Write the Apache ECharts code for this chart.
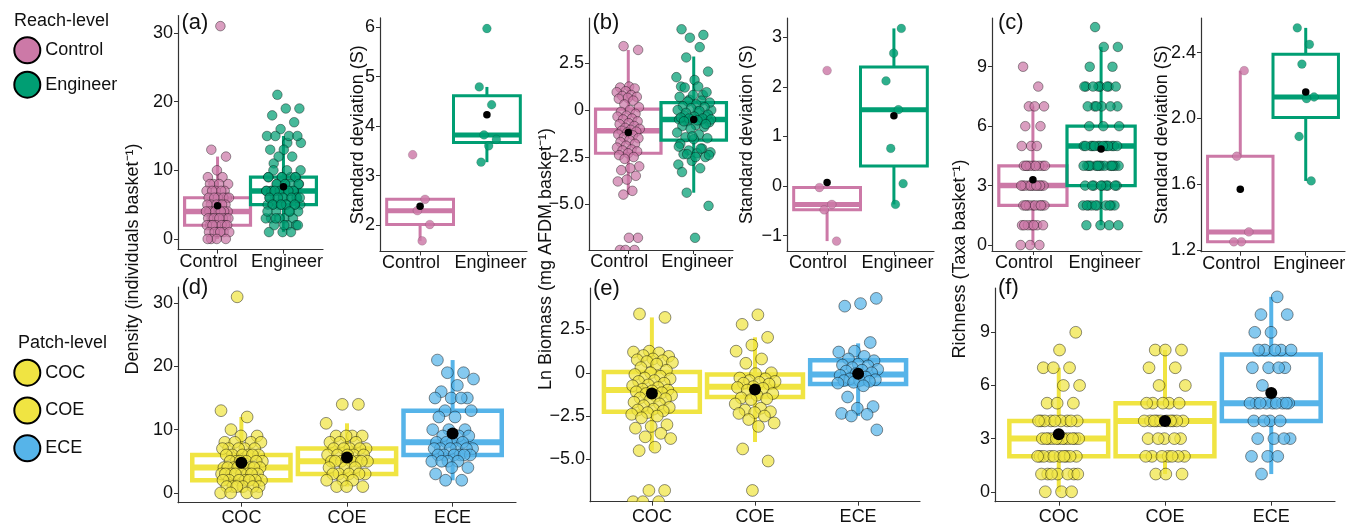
<!DOCTYPE html>
<html><head><meta charset="utf-8">
<script src="https://cdn.jsdelivr.net/npm/echarts@6/dist/echarts.min.js"></script>
<style>html,body{margin:0;padding:0;background:#fff}#chart{width:1362px;height:527px}</style>
</head><body><div id="chart"></div>
<script>
// ---------------- DATA ----------------
const reachCategories = ['Control', 'Engineer'];
const patchCategories = ['COC', 'COE', 'ECE'];

const densityTicks = [0, 10, 20, 30];
const biomassTicks = [-5, -2.5, 0, 2.5];
const richnessTicks = [0, 3, 6, 9];
const sdDensityTicks = [2, 3, 4, 5, 6];
const sdBiomassTicks = [-1, 0, 1, 2, 3];
const sdRichnessTicks = [1.2, 1.6, 2.0, 2.4];

// Density (individuals per basket) per patch type
const densityCOC = [31, 13, 12, 10, 9, 9, 8, 8, 8, 8, 7, 7, 7, 7, 7, 6, 6, 6, 6, 6, 6, 5, 5, 5, 5, 5, 5, 4, 4, 4, 4, 4, 4, 4, 4, 3, 3, 3, 3, 3, 3, 3, 3, 2, 2, 2, 2, 2, 2, 2, 1, 1, 1, 1, 1, 1, 0, 0, 0, 0];
const densityCOE = [14, 14, 11, 9, 9, 9, 9, 8, 8, 8, 7, 7, 7, 7, 7, 6, 6, 6, 6, 6, 5, 5, 5, 5, 5, 5, 5, 4, 4, 4, 3, 3, 3, 3, 3, 2, 2, 2, 1, 1, 1];
const densityECE = [21, 19, 19, 18, 17, 16, 15, 15, 15, 15, 13, 13, 12, 12, 10, 10, 10, 9, 9, 9, 8, 8, 8, 8, 7, 7, 7, 7, 7, 7, 6, 6, 6, 6, 6, 6, 5, 5, 5, 5, 4, 4, 3, 2, 2];

// Ln biomass (mg AFDM per basket)
const biomassCOC = [3.4, 3.2, 1.25, 1.2, 1.15, 1.0, 0.95, 0.8, 0.75, 0.7, 0.65, 0.6, 0.5, 0.3, 0.15, 0.0, -0.1, -0.2, -0.3, -0.35, -0.45, -0.5, -0.6, -0.7, -0.75, -0.85, -0.95, -1.0, -1.05, -1.1, -1.15, -1.2, -1.3, -1.35, -1.45, -1.5, -1.6, -1.7, -1.8, -1.9, -2.0, -2.1, -2.15, -2.2, -2.3, -2.4, -2.5, -2.6, -3.0, -3.1, -3.2, -3.5, -3.7, -3.8, -4.3, -4.5, -6.8, -6.8, -7.45, -7.45, -7.45];
const biomassCOE = [3.35, 2.8, 2.05, 1.6, 1.25, 0.8, 0.55, 0.0, -0.05, -0.3, -0.35, -0.45, -0.5, -0.55, -0.6, -0.65, -0.8, -0.85, -0.9, -1.0, -1.2, -1.3, -1.45, -1.5, -1.55, -1.8, -2.05, -2.15, -2.25, -2.3, -2.35, -2.5, -2.7, -2.9, -3.1, -4.4, -5.1, -6.8];
const biomassECE = [4.3, 4.0, 3.85, 1.75, 1.25, 1.2, 0.95, 0.8, 0.7, 0.5, 0.45, 0.4, 0.3, 0.2, 0.15, 0.1, 0.0, -0.05, -0.15, -0.25, -0.35, -0.4, -0.45, -0.45, -0.5, -0.55, -0.6, -0.75, -1.4, -1.95, -2.05, -2.35, -2.4, -2.5, -3.3];

// Richness (taxa per basket)
const richnessCOC = [9, 8, 7, 7, 7, 6, 6, 5, 5, 5, 4, 4, 4, 4, 4, 4, 4, 4, 4, 3, 3, 3, 3, 3, 3, 3, 3, 3, 3, 3, 3, 2, 2, 2, 2, 2, 2, 2, 2, 2, 2, 1, 1, 1, 1, 1, 1, 1, 0, 0, 0];
const richnessCOE = [8, 8, 8, 7, 7, 6, 6, 5, 5, 5, 5, 5, 4, 4, 4, 4, 4, 4, 4, 4, 4, 4, 3, 3, 3, 3, 3, 2, 2, 2, 2, 2, 2, 2, 1, 1, 1];
const richnessECE = [11, 10, 10, 9, 9, 8, 8, 8, 8, 8, 7, 7, 7, 7, 6, 5, 5, 5, 5, 5, 5, 5, 5, 5, 4, 4, 4, 4, 3, 3, 3, 3, 2, 2, 2, 1];

// Standard deviations (reach level)
const sdDensityControl = [3.42, 2.52, 2.29, 2.01, 1.68];
const sdDensityEngineer = [5.97, 4.79, 4.43, 3.82, 3.73, 3.6, 3.27];
const sdBiomassControl = [2.33, -0.03, -0.37, -0.48, -1.11];
const sdBiomassEngineer = [3.18, 2.68, 2.12, 1.54, 0.76, 0.05, -0.37];
const sdRichnessControl = [2.29, 1.77, 1.31, 1.25, 1.25];
const sdRichnessEngineer = [2.55, 2.45, 2.33, 2.13, 2.12, 1.89, 1.62];

// Box statistics [lower whisker, Q1, median, Q3, upper whisker] and means
const densityReachBox = [[0, 2, 4, 6, 12], [1, 5, 7, 9, 15]];
const densityReachMean = [4.85, 7.6];
const densityPatchBox = [[0, 2, 4, 6, 12], [1, 3, 5, 7, 11], [2, 6, 8, 13, 21]];
const densityPatchMean = [4.75, 5.6, 9.4];
const biomassReachBox = [[-4.5, -2.3, -1.1, 0.05, 3.2], [-4.4, -1.6, -0.5, 0.4, 2.85]];
const biomassReachMean = [-1.2, -0.5];
const biomassPatchBox = [[-4.5, -2.25, -1.0, 0.05, 3.2], [-4.0, -1.4, -0.8, -0.1, 2.05], [-2.5, -0.65, -0.1, 0.72, 1.7]];
const biomassPatchMean = [-1.2, -0.97, -0.06];
const richnessReachBox = [[0, 2, 3, 4, 7], [1, 3, 5, 6, 10]];
const richnessReachMean = [3.3, 4.85];
const richnessPatchBox = [[0, 2, 3, 4, 7], [1, 2, 4, 5, 8], [1, 4, 5, 7.75, 11]];
const richnessPatchMean = [3.25, 4.0, 5.57];
const sdDensityBox = [[1.68, 2.01, 2.29, 2.52, 2.52], [3.27, 3.665, 3.82, 4.61, 4.79]];
const sdDensityMean = [2.38, 4.23];
const sdBiomassBox = [[-1.11, -0.48, -0.37, -0.03, -0.03], [-0.37, 0.405, 1.54, 2.40, 3.18]];
const sdBiomassMean = [0.07, 1.42];
const sdRichnessBox = [[1.25, 1.25, 1.31, 1.77, 2.29], [1.62, 2.005, 2.13, 2.39, 2.55]];
const sdRichnessMean = [1.57, 2.16];

// ---------------- STYLE / LAYOUT ----------------
const FONT = '"Liberation Sans", Arial, Helvetica, sans-serif';
const PINK = '#cc79a7', GREEN = '#009e73', YELLOW = '#f0e442', BLUE = '#56b4e9';
const AXIS = '#333333', TEXT = '#111111';

const TOP = {r: 4.8, jw: [0.18, 0.27], op: 0.72, stroke: 'rgba(0,0,0,0.55)', lw: 0.7, bw: 1.0, bl: 3.2, ml: 5.5, wl: 3, mean: 7.5, margin: 3, shift: true};
const INSET = {r: 4.4, jw: [0.15, 0.15], op: 0.82, stroke: 'rgba(0,0,0,0.22)', lw: 0.6, bw: 1.0, bl: 3, ml: 5, wl: 3, mean: 7.5, margin: 3, shift: true};
const BOTTOM = {r: 5.9, jw: [0.2, 0.2, 0.2], op: 0.72, stroke: 'rgba(0,0,0,0.55)', lw: 0.8, bw: 0.93, bl: 4.5, ml: 6, wl: 4, mean: 12, margin: 6, shift: false};
// horizontal nudges (px) of the reach-level category labels, as in the original figure
const LABEL_PAD = [[0, 18, 0, 0], [0, 0, 0, 7]];

function fmtMinus(dec) {
  return v => {
    const s = dec > 0 && v !== 0 ? Math.abs(v).toFixed(dec) : String(Math.abs(v));
    return (v < 0 ? '\u2212' : '') + s;
  };
}

const panels = [
  {rect: [178, 15.5, 323, 249.6], y: [-1.55, 32.55], ticks: densityTicks, fmt: fmtMinus(0), cats: reachCategories, st: TOP, seed: 0.62,
   groups: [{name: 'Control', v: densityCOC, c: PINK}, {name: 'Engineer', v: densityCOE.concat(densityECE), c: GREEN}],
   box: densityReachBox, mean: densityReachMean},
  {rect: [380, 17.9, 527, 251.5], y: [1.4655, 6.1845], ticks: sdDensityTicks, fmt: fmtMinus(0), cats: reachCategories, st: INSET, seed: 0.13,
   groups: [{name: 'Control', v: sdDensityControl, c: PINK}, {name: 'Engineer', v: sdDensityEngineer, c: GREEN}],
   box: sdDensityBox, mean: sdDensityMean},
  {rect: [589, 18, 733, 250], y: [-7.45, 4.9], ticks: biomassTicks, fmt: fmtMinus(1), cats: reachCategories, st: TOP, seed: 0.3,
   groups: [{name: 'Control', v: biomassCOC, c: PINK}, {name: 'Engineer', v: biomassCOE.concat(biomassECE), c: GREEN}],
   box: biomassReachBox, mean: biomassReachMean},
  {rect: [787, 18, 934, 251], y: [-1.31, 3.39], ticks: sdBiomassTicks, fmt: fmtMinus(0), cats: reachCategories, st: INSET, seed: 0.5,
   groups: [{name: 'Control', v: sdBiomassControl, c: PINK}, {name: 'Engineer', v: sdBiomassEngineer, c: GREEN}],
   box: sdBiomassBox, mean: sdBiomassMean},
  {rect: [992, 18, 1142, 251], y: [-0.3, 11.46], ticks: richnessTicks, fmt: fmtMinus(0), cats: reachCategories, st: TOP, seed: 0.1,
   groups: [{name: 'Control', v: richnessCOC, c: PINK}, {name: 'Engineer', v: richnessCOE.concat(richnessECE), c: GREEN}],
   box: richnessReachBox, mean: richnessReachMean},
  {rect: [1201, 18, 1345, 251.7], y: [1.19, 2.61], ticks: sdRichnessTicks, fmt: v => v.toFixed(1), cats: reachCategories, st: INSET, seed: 0.7,
   groups: [{name: 'Control', v: sdRichnessControl, c: PINK}, {name: 'Engineer', v: sdRichnessEngineer, c: GREEN}],
   box: sdRichnessBox, mean: sdRichnessMean},
  {rect: [178, 287, 516, 502.7], y: [-1.55, 32.55], ticks: densityTicks, fmt: fmtMinus(0), cats: patchCategories, st: BOTTOM, seed: 0.4,
   groups: [{name: 'COC', v: densityCOC, c: YELLOW}, {name: 'COE', v: densityCOE, c: YELLOW}, {name: 'ECE', v: densityECE, c: BLUE}],
   box: densityPatchBox, mean: densityPatchMean},
  {rect: [590, 288, 920, 501.7], y: [-7.45, 4.9], ticks: biomassTicks, fmt: fmtMinus(1), cats: patchCategories, st: BOTTOM, seed: 0.2,
   groups: [{name: 'COC', v: biomassCOC, c: YELLOW}, {name: 'COE', v: biomassCOE, c: YELLOW}, {name: 'ECE', v: biomassECE, c: BLUE}],
   box: biomassPatchBox, mean: biomassPatchMean},
  {rect: [995, 288, 1335, 501.7], y: [-0.56, 11.5], ticks: richnessTicks, fmt: fmtMinus(0), cats: patchCategories, st: BOTTOM, seed: 0.9,
   groups: [{name: 'COC', v: richnessCOC, c: YELLOW}, {name: 'COE', v: richnessCOE, c: YELLOW}, {name: 'ECE', v: richnessECE, c: BLUE}],
   box: richnessPatchBox, mean: richnessPatchMean}
];

// deterministic, evenly spread horizontal jitter (golden-ratio sequence)
function jitter(i, seed, w) {
  const u = (i * 0.6180339887 + seed) % 1;
  return (u - 0.5) * 2 * w;
}
function hexA(hex, a) {
  const n = parseInt(hex.slice(1), 16);
  return 'rgba(' + (n >> 16 & 255) + ',' + (n >> 8 & 255) + ',' + (n & 255) + ',' + a + ')';
}

const labelFont = {fontSize: 18, color: TEXT, fontFamily: FONT};
const grids = [], xAxes = [], yAxes = [], series = [];
panels.forEach((p, k) => {
  const [l, t, r, b] = p.rect;
  const st = p.st;
  grids.push({left: l, top: t, width: r - l, height: b - t, outerBoundsMode: 'none'});
  const n = p.cats.length;
  const catPos = p.cats.map((c, i) => i + 1);
  const axisCommon = {
    gridIndex: k, type: 'value', splitLine: {show: false},
    axisLine: {show: true, onZero: false, lineStyle: {color: AXIS, width: 1.2}},
  };
  const rich = {};
  p.cats.forEach((c, i) => { rich['c' + i] = Object.assign({padding: st.shift ? LABEL_PAD[i] : [0, 0, 0, 0]}, labelFont); });
  xAxes.push(Object.assign({}, axisCommon, {
    min: 0.4, max: n + 0.6,
    axisTick: {show: true, customValues: catPos, length: 4, lineStyle: {color: AXIS, width: 1}},
    axisLabel: Object.assign({customValues: catPos, margin: st.margin, rich: rich,
      formatter: v => { const i = Math.round(v) - 1; return '{c' + i + '|' + p.cats[i] + '}'; }}, labelFont)
  }));
  yAxes.push(Object.assign({}, axisCommon, {
    min: p.y[0], max: p.y[1],
    axisTick: {show: true, customValues: p.ticks, length: 4, lineStyle: {color: AXIS, width: 1}},
    axisLabel: Object.assign({customValues: p.ticks, formatter: p.fmt, margin: 5}, labelFont)
  }));
  // boxes
  series.push({
    type: 'custom', xAxisIndex: k, yAxisIndex: k, z: 2, silent: true,
    data: p.box.map((bx, i) => [i + 1].concat(bx)),
    renderItem: (params, api) => {
      const x = api.value(0);
      const c = p.groups[params.dataIndex].c;
      const L = api.coord([x - st.bw / 2, 0])[0], R = api.coord([x + st.bw / 2, 0])[0];
      const cx = api.coord([x, 0])[0];
      const yy = d => api.coord([x, api.value(d)])[1];
      const ymin = yy(1), yq1 = yy(2), ymed = yy(3), yq3 = yy(4), ymax = yy(5);
      return {type: 'group', children: [
        {type: 'line', shape: {x1: cx, y1: yq3, x2: cx, y2: ymax}, style: {stroke: c, lineWidth: st.wl}},
        {type: 'line', shape: {x1: cx, y1: ymin, x2: cx, y2: yq1}, style: {stroke: c, lineWidth: st.wl}},
        {type: 'rect', shape: {x: L, y: yq3, width: R - L, height: yq1 - yq3}, style: {fill: 'rgba(255,255,255,0)', stroke: c, lineWidth: st.bl}},
        {type: 'line', shape: {x1: L, y1: ymed, x2: R, y2: ymed}, style: {stroke: c, lineWidth: st.ml}}
      ]};
    }
  });
  // jittered points
  p.groups.forEach((g, gi) => {
    const seed = p.seed + 0.37 * gi;
    series.push({
      type: 'custom', name: g.name, xAxisIndex: k, yAxisIndex: k, z: 3, silent: true, clip: true,
      itemStyle: {color: g.c},
      data: g.v.map((v, i) => [gi + 1 + jitter(i, seed, st.jw[gi]), v]),
      renderItem: (params, api) => {
        const pt = api.coord([api.value(0), api.value(1)]);
        return {type: 'circle', shape: {cx: pt[0], cy: pt[1], r: st.r},
                style: {fill: hexA(g.c, st.op), stroke: st.stroke, lineWidth: st.lw}};
      }
    });
  });
  // means
  series.push({
    type: 'scatter', xAxisIndex: k, yAxisIndex: k, z: 5, silent: true,
    symbol: 'circle', symbolSize: st.mean, itemStyle: {color: '#000', opacity: 1},
    data: p.mean.map((m, i) => [i + 1, m])
  });
});

function txt(text, x, y, opts) {
  opts = opts || {};
  return {type: 'text', x: x, y: y, rotation: opts.rot || 0, silent: true, z: 10,
    style: {text: text, font: (opts.size || 18) + 'px ' + FONT, fill: TEXT,
      textAlign: opts.align || 'left', align: opts.align || 'left',
      textVerticalAlign: 'middle', verticalAlign: 'middle'}};
}
const R90 = Math.PI / 2;
const graphics = [
  txt('Reach-level', 14, 20.7),
  txt('Patch-level', 18, 343.3),
  txt('(a)', 181.5, 22.8, {size: 22}), txt('(b)', 592.5, 22.8, {size: 22}), txt('(c)', 998, 22.5, {size: 22}),
  txt('(d)', 181.5, 287.8, {size: 22}), txt('(e)', 593, 288.5, {size: 22}), txt('(f)', 998, 287.8, {size: 22}),
  txt('Density (individuals basket\u207B\u00B9)', 133.5, 259, {rot: R90, align: 'center'}),
  txt('Ln Biomass (mg AFDM basket\u207B\u00B9)', 546, 259, {rot: R90, align: 'center'}),
  txt('Richness (Taxa basket\u207B\u00B9)', 960, 259, {rot: R90, align: 'center'}),
  txt('Standard deviation (S)', 358, 134.7, {rot: R90, align: 'center'}),
  txt('Standard deviation (S)', 747, 134.5, {rot: R90, align: 'center'}),
  txt('Standard deviation (S)', 1162, 134.8, {rot: R90, align: 'center'})
];

const legendItem = (name, color) => ({name: name, icon: 'circle',
  itemStyle: {color: color, opacity: 1, borderColor: '#000', borderWidth: 2}});
const legendCommon = {orient: 'vertical', left: 13.3, itemWidth: 26, itemHeight: 26, padding: 0,
  selectedMode: false, icon: 'circle', textStyle: {fontSize: 18, color: TEXT, fontFamily: FONT}};

const option = {
  animation: false,
  backgroundColor: '#ffffff',
  textStyle: {fontFamily: FONT},
  grid: grids, xAxis: xAxes, yAxis: yAxes, series: series,
  graphic: graphics,
  legend: [
    Object.assign({}, legendCommon, {top: 36.3, itemGap: 6.4,
      data: [legendItem('Control', PINK), legendItem('Engineer', GREEN)]}),
    Object.assign({}, legendCommon, {top: 358.7, itemGap: 9.8,
      data: [legendItem('COC', YELLOW), legendItem('COE', YELLOW), legendItem('ECE', BLUE)]})
  ]
};

const chart = echarts.init(document.getElementById('chart'), null, {renderer: 'canvas'});
chart.setOption(option);
</script>
</body></html>
